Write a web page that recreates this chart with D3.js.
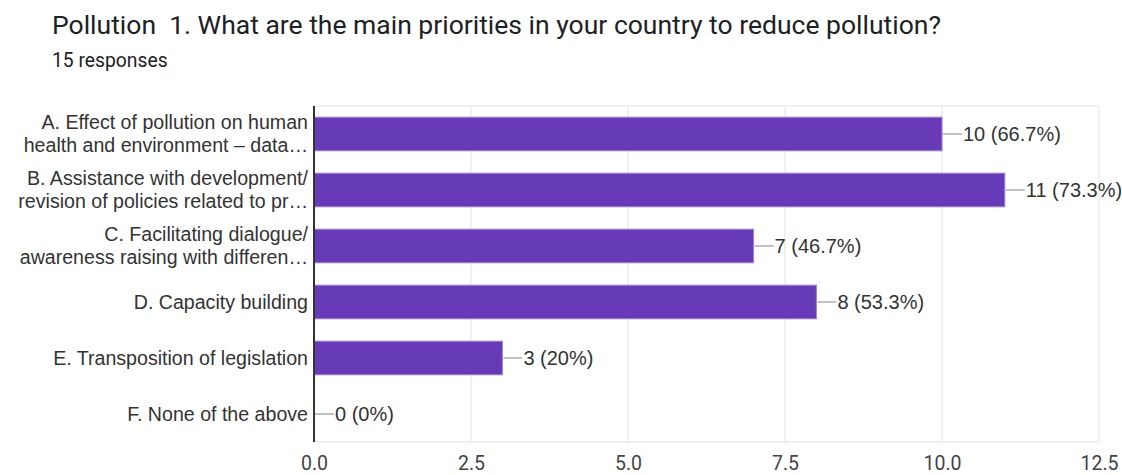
<!DOCTYPE html>
<html>
<head>
<meta charset="utf-8">
<script src="https://cdn.jsdelivr.net/npm/d3@7"></script>
<style>
  html, body { margin: 0; padding: 0; background: #fff; }
  svg { display: block; }
</style>
</head>
<body>
<svg id="chart" width="1122" height="475"></svg>
<script>
// Survey answers: each option as one or two wrapped label lines
const categories = [
  ["A. Effect of pollution on human", "health and environment \u2013 data\u2026"],
  ["B. Assistance with development/", "revision of policies related to pr\u2026"],
  ["C. Facilitating dialogue/", "awareness raising with differen\u2026"],
  ["D. Capacity building"],
  ["E. Transposition of legislation"],
  ["F. None of the above"]
];
const counts = [10, 11, 7, 8, 3, 0];
const percentLabels = ["66.7%", "73.3%", "46.7%", "53.3%", "20%", "0%"];
const xTicks = [0, 2.5, 5, 7.5, 10, 12.5];
const totalResponses = 15;

const svg = d3.select("#chart");
const margin = { left: 314, right: 23, top: 106, bottom: 33 };
const W = 1122, H = 475;

svg.append("text")
  .attr("x", 52).attr("y", 34)
  .attr("font-family", "Roboto, sans-serif")
  .attr("font-size", 26.5)
  .attr("fill", "#202124")
  .style("white-space", "pre")
  .text("Pollution  1. What are the main priorities in your country to reduce pollution?");

svg.append("text")
  .attr("x", 52).attr("y", 67)
  .attr("font-family", "Roboto, sans-serif")
  .attr("font-size", 19.3)
  .attr("fill", "#202124")
  .text(totalResponses + " responses");

const x = d3.scaleLinear().domain([0, 12.5]).range([margin.left, W - margin.right]);
const y = d3.scaleBand().domain(d3.range(categories.length))
  .range([margin.top, H - margin.bottom]).paddingInner(0.4).paddingOuter(0.2);

// vertical grid lines
svg.append("g").selectAll("line").data(xTicks).join("line")
  .attr("x1", d => x(d)).attr("x2", d => x(d))
  .attr("y1", margin.top).attr("y2", H - margin.bottom)
  .attr("stroke", "#ebebeb").attr("stroke-width", 1.5);
// plot frame top/bottom
[margin.top, H - margin.bottom].forEach(yy => {
  svg.append("line").attr("x1", margin.left).attr("x2", W - margin.right)
    .attr("y1", yy).attr("y2", yy).attr("stroke", "#ebebeb").attr("stroke-width", 1.5);
});

// x axis tick labels
const xAxis = d3.axisBottom(x).tickValues(xTicks).tickFormat(d3.format(".1f")).tickSize(0).tickPadding(0);
const gx = svg.append("g").attr("transform", `translate(0,${H - margin.bottom + 14})`).call(xAxis);
gx.select(".domain").remove();
gx.selectAll("text")
  .attr("font-family", "Roboto, sans-serif").attr("font-size", 19.5)
  .attr("fill", "#444").attr("dy", "0.71em");

// bars
svg.append("g").selectAll("rect").data(counts).join("rect")
  .attr("x", x(0))
  .attr("y", (d, i) => y(i))
  .attr("width", d => x(d) - x(0))
  .attr("height", y.bandwidth())
  .attr("fill", "#673ab7")
  .attr("stroke", d => d > 0 ? "#9c7fd6" : "none")
  .attr("stroke-width", 1);

// value leaders and labels
const vals = svg.append("g");
counts.forEach((d, i) => {
  const cy = y(i) + y.bandwidth() / 2;
  const x0 = x(d) + 1;
  vals.append("line").attr("x1", x0).attr("x2", x0 + 19)
    .attr("y1", cy).attr("y2", cy).attr("stroke", "#999").attr("stroke-width", 1.2);
  vals.append("text").attr("x", x0 + 20).attr("y", cy).attr("dy", "0.35em")
    .attr("font-family", "Arial, 'Liberation Sans', sans-serif").attr("font-size", 20)
    .attr("fill", "#333").text(`${d} (${percentLabels[i]})`);
});

// category labels
const labels = svg.append("g");
categories.forEach((lines, i) => {
  const cy = y(i) + y.bandwidth() / 2;
  const lh = 23;
  const start = cy - (lines.length - 1) * lh / 2;
  const t = labels.append("text").attr("text-anchor", "end")
    .attr("font-family", "Arial, 'Liberation Sans', sans-serif").attr("font-size", 19.6)
    .attr("fill", "#333");
  lines.forEach((ln, k) => {
    t.append("tspan").attr("x", margin.left - 6).attr("y", start + k * lh).attr("dy", "0.35em").text(ln);
  });
});

// y axis line
svg.append("line").attr("x1", x(0)).attr("x2", x(0))
  .attr("y1", margin.top).attr("y2", H - margin.bottom)
  .attr("stroke", "#333").attr("stroke-width", 2);
</script>
</body>
</html>
